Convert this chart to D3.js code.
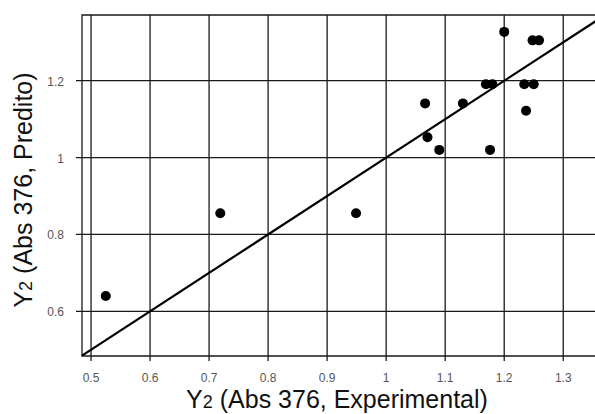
<!DOCTYPE html>
<html>
<head>
<meta charset="utf-8">
<script src="https://cdn.jsdelivr.net/npm/d3@7"></script>
<style>
  body { margin: 0; background: #fff; }
  svg { display: block; font-family: "Liberation Sans", Arial, sans-serif; }
</style>
</head>
<body>
<svg id="chart" width="595" height="414"></svg>
<script>
// experimental vs predicted Y2 (Abs 376)
var expX  = [1.200, 1.248, 1.259, 1.169, 1.180, 1.234, 1.250, 1.066, 1.130, 1.237, 1.070, 1.090, 1.176, 0.949, 0.719, 0.525];
var predY = [1.327, 1.305, 1.305, 1.191, 1.191, 1.191, 1.191, 1.141, 1.141, 1.122, 1.053, 1.020, 1.020, 0.855, 0.855, 0.640];
var xTicks = [0.5, 0.6, 0.7, 0.8, 0.9, 1, 1.1, 1.2, 1.3];
var yTicks = [0.6, 0.8, 1, 1.2];

var svg = d3.select("#chart");
var pLeft = 82, pRight = 597, pTop = 15, pBottom = 356;

var x = d3.scaleLinear().domain([0.4847, 1.3572]).range([pLeft, pRight]);
var y = d3.scaleLinear().domain([0.4837, 1.371]).range([pBottom, pTop]);

var fmt = function(d){ return String(d); };
var gridCol = "#1a1a1a";

// grid
svg.append("g").selectAll("line").data(xTicks).enter().append("line")
  .attr("x1", function(d){ return x(d); }).attr("x2", function(d){ return x(d); })
  .attr("y1", pTop).attr("y2", pBottom + 5)
  .attr("stroke", gridCol).attr("stroke-width", 1.3);
svg.append("g").selectAll("line").data(yTicks).enter().append("line")
  .attr("y1", function(d){ return y(d); }).attr("y2", function(d){ return y(d); })
  .attr("x1", pLeft - 6).attr("x2", pRight)
  .attr("stroke", gridCol).attr("stroke-width", 1.3);

// border (right side falls off the page)
svg.append("path")
  .attr("d", "M" + pRight + "," + pTop + "H" + pLeft + "V" + pBottom + "H" + pRight)
  .attr("fill", "none").attr("stroke", gridCol).attr("stroke-width", 1.3);

// tick labels
svg.append("g").selectAll("text").data(xTicks).enter().append("text")
  .attr("x", function(d){ return x(d); }).attr("y", 382)
  .attr("text-anchor", "middle").attr("font-size", 12).attr("fill", "#555")
  .text(fmt);
svg.append("g").selectAll("text").data(yTicks).enter().append("text")
  .attr("x", 64).attr("y", function(d){ return y(d) + 5; })
  .attr("text-anchor", "end").attr("font-size", 12).attr("fill", "#555")
  .text(fmt);

// y = x reference line
var lo = x.domain()[0];
svg.append("line")
  .attr("x1", x(lo)).attr("y1", y(lo))
  .attr("x2", x(1.3572)).attr("y2", y(1.3572))
  .attr("stroke", "#000").attr("stroke-width", 2.2);

// points
var pts = expX.map(function(v, i){ return {x: v, y: predY[i]}; });
svg.append("g").selectAll("circle").data(pts).enter().append("circle")
  .attr("cx", function(d){ return x(d.x); })
  .attr("cy", function(d){ return y(d.y); })
  .attr("r", 5).attr("fill", "#000");

// axis titles
function title(sel, rest) {
  sel.append("tspan").text("Y");
  sel.append("tspan").attr("font-size", 18).text("2");
  sel.append("tspan").text(rest);
}
var xt = svg.append("text")
  .attr("x", 337).attr("y", 408)
  .attr("text-anchor", "middle").attr("font-size", 25).attr("fill", "#111");
title(xt, " (Abs 376, Experimental)");

var yt = svg.append("text")
  .attr("transform", "translate(32,190) rotate(-90)")
  .attr("text-anchor", "middle").attr("font-size", 25).attr("fill", "#111");
title(yt, " (Abs 376, Predito)");
</script>
</body>
</html>
